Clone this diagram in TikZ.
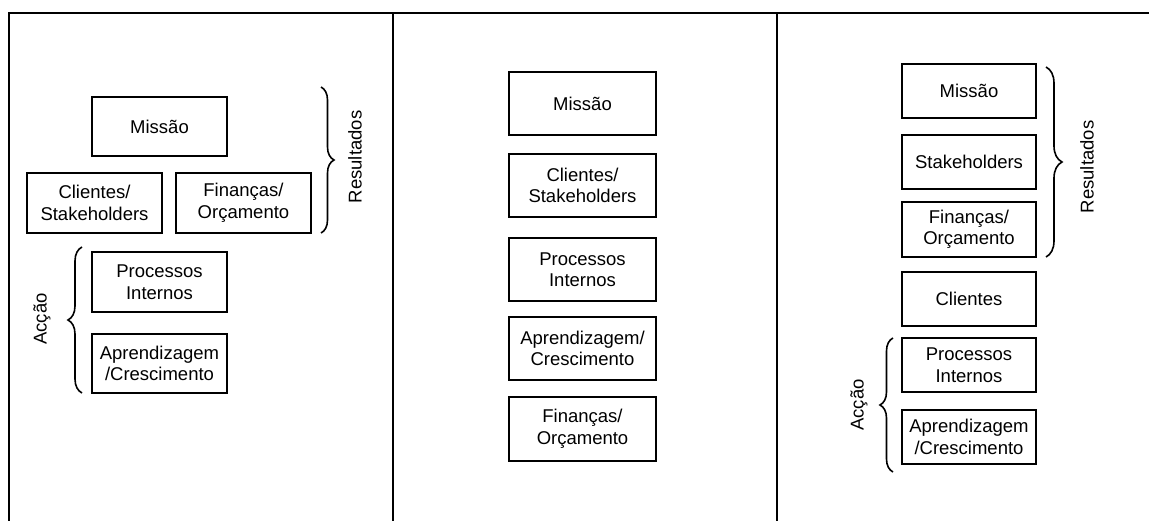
\documentclass[tikz,border=0pt]{standalone}
\usepackage{fontspec}
\setmainfont{Liberation Sans}
\usetikzlibrary{decorations.pathreplacing}
\begin{document}
\begin{tikzpicture}[x=1pt,y=-1pt,
  txt/.style={font=\fontsize{18.5}{21.5}\selectfont, align=center, inner sep=0pt},
  card/.style={txt, draw, line width=2pt, minimum width=#1, anchor=center},
  card/.default=135pt,
  frame/.style={line width=2.6pt},
  curly/.style={line width=1.6pt, decorate, decoration={brace, amplitude=#1}},
  side/.style={txt, rotate=90}]
\useasboundingbox (0,0) rectangle (1149,521);

% outer frame and column dividers
\draw[frame] (9,521) -- (9,13) -- (1149,13);
\draw[frame] (393,13) -- (393,521);
\draw[frame] (777,13) -- (777,521);

% first column
\node[card, minimum height=59pt] (m1) at (159.5,126.5) {Missão};
\node[card, minimum height=60pt] (c1) at (94.5,203) {Clientes/\\Stakeholders};
\node[card, minimum height=60pt] (f1) at (243.5,203) {Finanças/\\Orçamento};
\node[card, minimum height=60pt] (p1) at (159.5,282) {Processos\\Internos};
\node[card, minimum height=59pt] (a1) at (159.5,363.5) {Aprendizagem\\/Crescimento};
\draw[curly=13pt] (321,87) -- (321,233);
\node[side] (r1) at (355,157) {Resultados};
\draw[curly=14pt] (82,393) -- (82,247);
\node[side] (ac1) at (42,319) {Acção};

% second column
\node[card=147pt, minimum height=63pt] (m2) at (582.5,103.5) {Missão};
\node[card=147pt, minimum height=63pt] (c2) at (582.5,185.5) {Clientes/\\Stakeholders};
\node[card=147pt, minimum height=63pt] (p2) at (582.5,269.5) {Processos\\Internos};
\node[card=147pt, minimum height=63pt] (a2) at (582.5,348.5) {Aprendizagem/\\Crescimento};
\node[card=147pt, minimum height=64pt] (f2) at (582.5,429) {Finanças/\\Orçamento};

% third column
\node[card=134pt, minimum height=54pt] (m3) at (969,91) {Missão};
\node[card=134pt, minimum height=54pt] (s3) at (969,162) {Stakeholders};
\node[card=134pt, minimum height=55pt] (f3) at (969,229.5) {Finanças/\\Orçamento};
\node[card=134pt, minimum height=54pt] (cl3) at (969,299) {Clientes};
\node[card=134pt, minimum height=54pt] (p3) at (969,365) {Processos\\Internos};
\node[card=134pt, minimum height=54pt] (a3) at (969,437) {Aprendizagem\\/Crescimento};
\draw[curly=16pt] (1046,67) -- (1046,257);
\node[side] (r3) at (1087,167) {Resultados};
\draw[curly=13pt] (893,472) -- (893,338);
\node[side] (ac3) at (859,405) {Acção};
\end{tikzpicture}
\end{document}
